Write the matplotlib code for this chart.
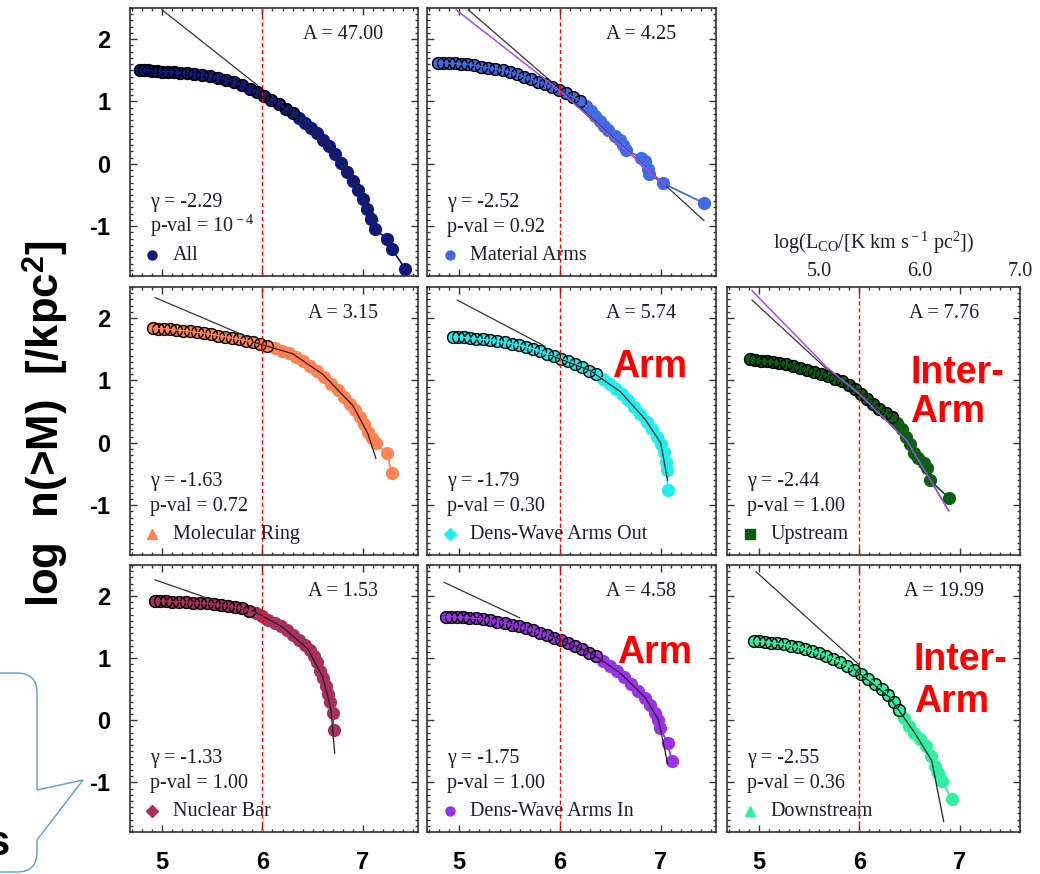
import matplotlib
matplotlib.use("Agg")
import matplotlib.pyplot as plt
from matplotlib.ticker import MultipleLocator
from matplotlib.path import Path
from matplotlib.patches import PathPatch

plt.rcParams['axes.unicode_minus'] = False
plt.rcParams['mathtext.fontset'] = 'custom'
plt.rcParams['mathtext.rm'] = 'Liberation Serif'
plt.rcParams['mathtext.it'] = 'Liberation Serif:italic'
plt.rcParams['mathtext.sf'] = 'Liberation Sans:bold'

# ---- data: log M vs log n(>M) ----
allX = [4.78, 4.82, 4.86, 4.90, 4.95, 5.00, 5.06, 5.12, 5.18, 5.25, 5.32, 5.40, 5.48, 5.56, 5.64, 5.72,
        5.80, 5.88, 5.95, 6.02, 6.09, 6.16, 6.23, 6.30, 6.36, 6.42, 6.48, 6.54, 6.60, 6.66, 6.72, 6.78,
        6.84, 6.90, 6.95, 7.00, 7.04, 7.08, 7.12, 7.24, 7.29, 7.42]
allY = [1.50, 1.50, 1.50, 1.49, 1.49, 1.48, 1.48, 1.47, 1.46, 1.45, 1.44, 1.43, 1.41, 1.38, 1.35, 1.31,
        1.26, 1.20, 1.15, 1.09, 1.02, 0.96, 0.88, 0.81, 0.73, 0.65, 0.57, 0.49, 0.39, 0.28, 0.15, 0.02,
        -0.13, -0.28, -0.42, -0.57, -0.72, -0.88, -1.05, -1.20, -1.37, -1.68]

matX = [4.79, 4.84, 4.90, 4.96, 5.02, 5.08, 5.15, 5.22, 5.29, 5.36, 5.43, 5.50, 5.57, 5.64, 5.71, 5.78,
        5.85, 5.92, 5.99, 6.06, 6.13, 6.20, 6.26, 6.31, 6.35, 6.40, 6.44, 6.48, 6.55, 6.60, 6.63, 6.66,
        6.81, 6.84, 6.87, 6.88, 7.02, 7.43]
matY = [1.62, 1.62, 1.61, 1.61, 1.60, 1.60, 1.58, 1.56, 1.54, 1.52, 1.50, 1.47, 1.44, 1.40, 1.36, 1.32,
        1.28, 1.23, 1.18, 1.13, 1.07, 1.01, 0.93, 0.84, 0.77, 0.68, 0.61, 0.54, 0.45, 0.38, 0.30, 0.22,
        0.10, 0.04, -0.08, -0.16, -0.31, -0.63]

ringX = [4.91, 4.96, 5.02, 5.08, 5.14, 5.21, 5.28, 5.35, 5.42, 5.49, 5.56, 5.63, 5.70, 5.77, 5.84, 5.91,
         5.98, 6.05, 6.12, 6.19, 6.26, 6.33, 6.40, 6.47, 6.54, 6.61, 6.68, 6.75, 6.81, 6.87, 6.92, 6.97,
         7.01, 7.05, 7.09, 7.13, 7.24, 7.29]
ringY = [1.84, 1.83, 1.83, 1.82, 1.81, 1.80, 1.79, 1.77, 1.76, 1.74, 1.72, 1.70, 1.68, 1.66, 1.64, 1.61,
         1.58, 1.55, 1.52, 1.48, 1.44, 1.38, 1.31, 1.24, 1.15, 1.05, 0.95, 0.85, 0.74, 0.63, 0.52, 0.41,
         0.30, 0.18, 0.08, 0.00, -0.17, -0.49]

outX = [4.94, 4.99, 5.05, 5.11, 5.17, 5.24, 5.31, 5.38, 5.45, 5.52, 5.59, 5.66, 5.73, 5.80, 5.87, 5.94,
        6.01, 6.08, 6.15, 6.22, 6.29, 6.36, 6.43, 6.50, 6.56, 6.62, 6.68, 6.74, 6.80, 6.86, 6.91, 6.96,
        7.00, 7.03, 7.05, 7.06, 7.07]
outY = [1.70, 1.70, 1.69, 1.68, 1.67, 1.66, 1.65, 1.63, 1.61, 1.59, 1.57, 1.54, 1.51, 1.47, 1.43, 1.39,
        1.35, 1.31, 1.27, 1.22, 1.16, 1.10, 1.03, 0.95, 0.87, 0.78, 0.69, 0.58, 0.46, 0.34, 0.22, 0.10,
        -0.02, -0.14, -0.30, -0.44, -0.75]

upX = [4.91, 4.96, 5.02, 5.08, 5.14, 5.20, 5.27, 5.34, 5.41, 5.48, 5.55, 5.62, 5.69, 5.76, 5.83, 5.90,
       5.96, 6.02, 6.08, 6.14, 6.20, 6.26, 6.32, 6.37, 6.42, 6.46, 6.50, 6.54, 6.58, 6.64, 6.67, 6.70, 6.89]
upY = [1.34, 1.33, 1.32, 1.31, 1.30, 1.28, 1.26, 1.23, 1.20, 1.17, 1.14, 1.11, 1.07, 1.03, 0.99, 0.93,
       0.86, 0.78, 0.70, 0.62, 0.55, 0.48, 0.41, 0.32, 0.22, 0.10, -0.02, -0.16, -0.25, -0.33, -0.40, -0.60, -0.88]

barX = [4.93, 4.98, 5.04, 5.10, 5.17, 5.24, 5.31, 5.38, 5.45, 5.52, 5.59, 5.66, 5.73, 5.80, 5.87, 5.94,
        6.00, 6.06, 6.12, 6.18, 6.24, 6.30, 6.36, 6.42, 6.47, 6.51, 6.54, 6.57, 6.60, 6.63, 6.65, 6.67,
        6.70, 6.71]
barY = [1.92, 1.92, 1.92, 1.91, 1.91, 1.90, 1.89, 1.89, 1.88, 1.87, 1.85, 1.84, 1.82, 1.80, 1.76, 1.72,
        1.68, 1.62, 1.56, 1.51, 1.45, 1.38, 1.30, 1.21, 1.13, 1.04, 0.93, 0.80, 0.68, 0.55, 0.42, 0.30,
        0.12, -0.15]

inX = [4.87, 4.92, 4.98, 5.04, 5.10, 5.17, 5.24, 5.31, 5.38, 5.45, 5.52, 5.59, 5.66, 5.73, 5.80, 5.87,
       5.94, 6.01, 6.08, 6.15, 6.22, 6.29, 6.36, 6.43, 6.50, 6.57, 6.64, 6.71, 6.78, 6.84, 6.89, 6.94,
       6.97, 6.99, 7.07, 7.11]
inY = [1.67, 1.67, 1.66, 1.66, 1.65, 1.64, 1.63, 1.61, 1.59, 1.57, 1.54, 1.51, 1.48, 1.45, 1.41, 1.37,
       1.33, 1.29, 1.25, 1.20, 1.15, 1.09, 1.03, 0.95, 0.87, 0.79, 0.70, 0.59, 0.47, 0.36, 0.24, 0.11,
       0.00, -0.12, -0.36, -0.65]

downX = [4.95, 5.00, 5.06, 5.12, 5.18, 5.25, 5.32, 5.39, 5.46, 5.53, 5.60, 5.67, 5.74, 5.81, 5.88, 5.95,
         6.02, 6.09, 6.16, 6.22, 6.28, 6.34, 6.39, 6.44, 6.49, 6.54, 6.60, 6.66, 6.71, 6.75, 6.78, 6.82, 6.92]
downY = [1.27, 1.27, 1.26, 1.25, 1.24, 1.22, 1.20, 1.18, 1.15, 1.12, 1.08, 1.04, 0.99, 0.94, 0.88, 0.81,
         0.74, 0.67, 0.59, 0.51, 0.41, 0.29, 0.17, 0.04, -0.09, -0.20, -0.30, -0.42, -0.58, -0.73, -0.85, -0.98, -1.27]

# fitted power laws (grey / purple) and truncated fits (thin curves)
allLineX, allLineY = [5.00, 5.95], [2.47, 1.26]
allFitX, allFitY = [5.90, 6.20, 6.50, 6.80, 7.00, 7.15], [1.20, 0.93, 0.56, 0.00, -0.50, -0.92]
matLineX, matLineY = [5.09, 6.00, 7.43], [2.47, 1.20, -0.91]
matPurpleX, matPurpleY = [4.97, 6.00, 7.05], [2.47, 1.17, -0.35]
ringLineX, ringLineY = [4.93, 5.85], [2.33, 1.70]
ringFitX, ringFitY = [5.90, 6.30, 6.60, 6.90, 7.05, 7.13], [1.62, 1.43, 1.10, 0.60, 0.15, -0.25]
outLineX, outLineY = [4.98, 5.85], [2.29, 1.55]
outFitX, outFitY = [5.90, 6.30, 6.60, 6.85, 7.00, 7.07], [1.41, 1.16, 0.82, 0.37, 0.00, -0.60]
upLineX, upLineY = [4.93, 5.67, 6.00, 6.47, 6.89], [2.29, 1.19, 0.78, 0.04, -1.09]
upPurpleX, upPurpleY = [4.93, 5.67, 6.00, 6.47, 6.89], [2.44, 1.22, 0.78, 0.04, -1.09]
barLineX, barLineY = [4.93, 5.50], [2.26, 1.94]
barFitX, barFitY = [5.90, 6.20, 6.45, 6.60, 6.68, 6.72], [1.77, 1.50, 1.15, 0.70, 0.20, -0.53]
inLineX, inLineY = [4.85, 5.60], [2.22, 1.65]
inFitX, inFitY = [5.90, 6.30, 6.60, 6.85, 6.98, 7.07], [1.37, 1.09, 0.76, 0.36, 0.00, -0.70]
downLineX, downLineY = [4.97, 6.00], [2.39, 0.89]
downFitX, downFitY = [5.95, 6.30, 6.55, 6.72, 6.84], [0.82, 0.37, -0.20, -0.65, -1.63]

xTicks = [5, 6, 7]
xTickLabels = ['5', '6', '7']
yTicks = [-1, 0, 1, 2]
yTickLabels = ['-1', '0', '1', '2']
lcoTicks = [5, 6, 7]
lcoTickLabels = ['5.0', '6.0', '7.0']

W, H = 1040, 874
fig = plt.figure(figsize=(10.4, 8.74), dpi=100)

SERIF = 'Liberation Serif'
SANS = 'Liberation Sans'
TXT = '#1c1c2a'


def makeAxes(left, top, width, height):
    return fig.add_axes([left / W, 1 - (top + height) / H, width / W, height / H])


def drawPanel(ax, xs, ys, color, marker, label, cut, lineX, lineY, fitX, fitY,
              A, gamma, pval, xmax, showX, showY, purpleX=None, purpleY=None):
    ax.plot(xs, ys, color=color, lw=1, marker='o', ms=8.5, mfc=color, mec=color, zorder=2)
    lowX = [x for x in xs if x < cut]
    lowY = [y for x, y in zip(xs, ys) if x < cut]
    ax.plot(lowX, lowY, ls='none', marker='o', ms=8.5, mfc='none', mec='black', mew=1.0, zorder=3)
    ax.plot(xs, ys, color=color, lw=1, zorder=3.5)
    if fitX:
        ax.plot(fitX, fitY, color='#222222', lw=0.9, zorder=4)
    ax.plot(lineX, lineY, color='#333333', lw=0.9, zorder=4)
    if purpleX:
        ax.plot(purpleX, purpleY, color='#a050f0', lw=1.1, zorder=4)
    ax.axvline(6, color='red', ls=(0, (3, 2)), lw=1, zorder=5)

    ax.set_xlim(4.68, xmax)
    ax.set_ylim(-1.8, 2.5)
    ax.set_xticks(xTicks)
    ax.set_yticks(yTicks)
    ax.xaxis.set_minor_locator(MultipleLocator(0.1))
    ax.yaxis.set_minor_locator(MultipleLocator(0.1))
    ax.tick_params(which='both', direction='in', top=True, right=True, color='#333333', width=1)
    ax.tick_params(which='major', length=5)
    ax.tick_params(which='minor', length=2.5)
    for s in ax.spines.values():
        s.set_linewidth(1.2)
        s.set_color('#333333')
    if showX:
        ax.set_xticklabels(xTickLabels, fontsize=17, fontweight='bold', family=SANS)
        ax.tick_params(axis='x', pad=14)
    else:
        ax.tick_params(axis='x', labelbottom=False)
    if showY:
        ax.set_yticklabels(yTickLabels, fontsize=17, fontweight='bold', family=SANS)
        ax.tick_params(axis='y', pad=14)
    else:
        ax.tick_params(axis='y', labelleft=False)

    ax.text(0.74, 0.884, 'A = ' + A, transform=ax.transAxes, ha='center', va='baseline',
            family=SERIF, fontsize=14.5, color=TXT)
    ax.text(0.068, 0.258, '\u03b3 = ' + gamma, transform=ax.transAxes, ha='left', va='baseline',
            family=SERIF, fontsize=14.5, color=TXT)
    ax.text(0.068, 0.165, 'p-val = ' + pval, transform=ax.transAxes, ha='left', va='baseline',
            family=SERIF, fontsize=14.5, color=TXT)
    ax.plot([0.078], [0.078], marker=marker, color=color, ms=6.5, ls='none',
            transform=ax.transAxes, clip_on=False)
    ax.text(0.148, 0.06, label, transform=ax.transAxes, ha='left', va='baseline',
            family=SERIF, fontsize=14.5, color=TXT)


colLeft = [130, 427, 727]
colWidth = [288, 289, 293]
rowTop = [8, 287, 565]
rowHeight = [268, 268, 267]
xmaxCol = [7.55, 7.55, 7.6005]


def panelAt(r, c):
    return makeAxes(colLeft[c], rowTop[r], colWidth[c], rowHeight[r])


ax = panelAt(0, 0)
drawPanel(ax, allX, allY, '#10187a', 'o', 'All', 6.35, allLineX, allLineY, allFitX, allFitY,
          '47.00', '-2.29', r'10$^{\rm -4}$', xmaxCol[0], False, True)

ax = panelAt(0, 1)
drawPanel(ax, matX, matY, '#4169e1', 'o', 'Material Arms', 6.25, matLineX, matLineY, None, None,
          '4.25', '-2.52', '0.92', xmaxCol[1], False, False, matPurpleX, matPurpleY)

ax = panelAt(1, 0)
drawPanel(ax, ringX, ringY, '#ff8352', '^', 'Molecular Ring', 6.1, ringLineX, ringLineY, ringFitX, ringFitY,
          '3.15', '-1.63', '0.72', xmaxCol[0], False, True)

ax = panelAt(1, 1)
drawPanel(ax, outX, outY, '#22eeee', 'D', 'Dens-Wave Arms Out', 6.4, outLineX, outLineY, outFitX, outFitY,
          '5.74', '-1.79', '0.30', xmaxCol[1], False, False)
ax.text(0.77, 0.664, 'Arm', transform=ax.transAxes, ha='center', va='baseline',
        family=SANS, fontweight='bold', fontsize=27, color='red')

ax = panelAt(1, 2)
drawPanel(ax, upX, upY, '#0b5e12', 's', 'Upstream', 6.35, upLineX, upLineY, None, None,
          '7.76', '-2.44', '1.00', xmaxCol[2], False, False, upPurpleX, upPurpleY)
ax.text(0.625, 0.642, 'Inter-', transform=ax.transAxes, ha='left', va='baseline',
        family=SANS, fontweight='bold', fontsize=27, color='red')
ax.text(0.625, 0.497, 'Arm', transform=ax.transAxes, ha='left', va='baseline',
        family=SANS, fontweight='bold', fontsize=27, color='red')
sec = ax.secondary_xaxis('top', functions=(lambda m: m - 0.6, lambda l: l + 0.6))
sec.set_xticks(lcoTicks)
sec.set_xticklabels(lcoTickLabels, family=SERIF, fontsize=14.5, color=TXT)
sec.tick_params(length=0, pad=4)
sec.spines['top'].set_visible(False)
sec.set_xlabel(r'log(L$_{\rm CO}$/[K km s$^{\rm -1}$ pc$^{\rm 2}$])', family=SERIF, fontsize=14.5,
               color=TXT, labelpad=10)

ax = panelAt(2, 0)
drawPanel(ax, barX, barY, '#a8305c', 'D', 'Nuclear Bar', 5.9, barLineX, barLineY, barFitX, barFitY,
          '1.53', '-1.33', '1.00', xmaxCol[0], True, True)

ax = panelAt(2, 1)
drawPanel(ax, inX, inY, '#9a32e6', 'o', 'Dens-Wave Arms In', 6.4, inLineX, inLineY, inFitX, inFitY,
          '4.58', '-1.75', '1.00', xmaxCol[1], True, False)
ax.text(0.786, 0.633, 'Arm', transform=ax.transAxes, ha='center', va='baseline',
        family=SANS, fontweight='bold', fontsize=27, color='red')

ax = panelAt(2, 2)
drawPanel(ax, downX, downY, '#2ff0a0', '^', 'Downstream', 6.4, downLineX, downLineY, downFitX, downFitY,
          '19.99', '-2.55', '0.36', xmaxCol[2], True, False)
ax.text(0.638, 0.607, 'Inter-', transform=ax.transAxes, ha='left', va='baseline',
        family=SANS, fontweight='bold', fontsize=27, color='red')
ax.text(0.638, 0.45, 'Arm', transform=ax.transAxes, ha='left', va='baseline',
        family=SANS, fontweight='bold', fontsize=27, color='red')

# shared y label
fig.text(45 / W, 1 - 424 / H, r'log  n(>M)  [/kpc$^{\mathsf{2}}$]', rotation=90, ha='center', va='center',
         family=SANS, fontweight='bold', fontsize=31.5)

# leftover slide callout at bottom left (cut off in the source image)
pts = [(0, 673), (17, 673), (37, 673), (37, 693), (37, 790), (83, 780), (37, 840), (37, 852),
       (37, 872), (17, 872), (0, 872)]
codes = [Path.MOVETO, Path.LINETO, Path.CURVE3, Path.CURVE3, Path.LINETO, Path.LINETO, Path.LINETO,
         Path.LINETO, Path.CURVE3, Path.CURVE3, Path.LINETO]
verts = [(x / W, 1 - y / H) for x, y in pts]
fig.patches.append(PathPatch(Path(verts, codes), transform=fig.transFigure, fill=False,
                             edgecolor='#5b9bd5', lw=1))
fig.text(10 / W, 1 - 855 / H, 's', ha='right', va='baseline', family=SANS, fontweight='bold', fontsize=30)

plt.savefig('out.png', dpi=100)
